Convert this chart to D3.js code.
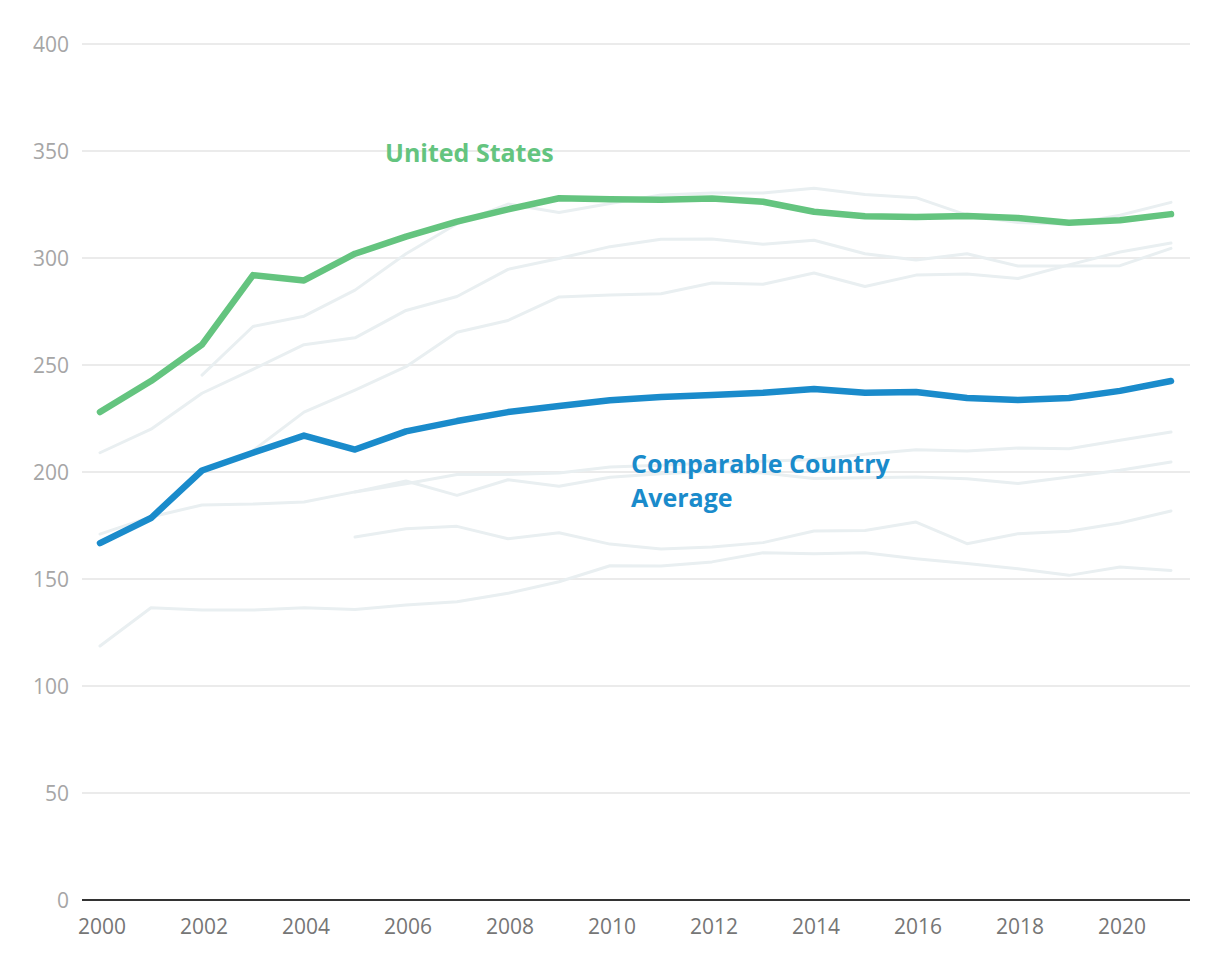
<!DOCTYPE html>
<html>
<head>
<meta charset="utf-8">
<script src="https://cdn.jsdelivr.net/npm/d3@7"></script>
<style>
  html, body { margin: 0; padding: 0; background: #ffffff; }
  svg { display: block; font-family: "Open Sans", Lato, sans-serif; }
</style>
</head>
<body>
<svg id="chart" width="1220" height="970"></svg>
<script>
// ---- Data ----
const years = [2000,2001,2002,2003,2004,2005,2006,2007,2008,2009,2010,2011,2012,2013,2014,2015,2016,2017,2018,2019,2020,2021];
const yTicks = [0,50,100,150,200,250,300,350,400];
const xTicks = [2000,2002,2004,2006,2008,2010,2012,2014,2016,2018,2020];

const unitedStates = [228,242.5,259.5,292,289.5,302,310,317,322.7,327.9,327.5,327.2,327.8,326.3,321.6,319.5,319.2,319.6,318.7,316.5,317.6,320.5];
const comparableAvg = [166.8,178.5,200.7,209,217,210.5,219,223.8,228,230.8,233.5,235,236,237,238.8,237,237.4,234.6,233.6,234.6,237.9,242.5];

const countryA = [null,null,245.3,268,272.8,285,302,316,325.2,321.3,325.5,329.4,330.4,330.4,332.6,329.7,328.2,320,316.6,315.8,320,326];
const countryB = [209,220,236.8,248,259.5,262.7,275.5,282,294.7,299.8,305.3,308.8,308.9,306.4,308.3,302,299.1,302,296.3,296.3,296.4,304.5];
const countryC = [null,null,null,210,228,238.3,249.2,265.3,270.8,281.8,282.7,283.3,288.3,287.7,293,286.7,292,292.5,290.4,296.8,302.8,307];
const countryD = [171,179,184.6,185,186,190.7,195.8,189.1,196.4,193.3,197.5,199.2,200.2,199.5,197,197.3,197.7,196.9,194.6,197.7,200.8,204.7];
const countryE = [null,null,null,null,null,190.7,194.5,198.8,198.8,199.5,202.3,203.2,204.2,205,205.8,208.3,210.4,209.8,211.2,210.9,214.8,218.7];
const countryF = [null,null,null,null,null,169.6,173.5,174.6,168.8,171.6,166.3,164,165,167,172.4,172.7,176.6,166.5,171.2,172.3,176.2,181.8];
const countryG = [118.7,136.6,135.5,135.5,136.6,135.8,137.8,139.4,143.3,148.7,156.2,156.1,158,162.3,161.8,162.3,159.5,157.2,154.8,151.7,155.6,154];

const otherCountries = [countryA, countryB, countryC, countryD, countryE, countryF, countryG];

// ---- Chart ----
const svg = d3.select("#chart");
const x = d3.scaleLinear().domain([2000, 2021]).range([100, 1171]);
const y = d3.scaleLinear().domain([0, 400]).range([900, 44]);
const gridLeft = 82, gridRight = 1190;

// gridlines
svg.append("g").selectAll("line")
  .data(yTicks.filter(d => d !== 0))
  .join("line")
  .attr("x1", gridLeft).attr("x2", gridRight)
  .attr("y1", d => y(d)).attr("y2", d => y(d))
  .attr("stroke", "#e4e4e4").attr("stroke-width", 1.5);

// y labels
svg.append("g").selectAll("text")
  .data(yTicks)
  .join("text")
  .attr("x", 69).attr("y", d => y(d))
  .attr("dy", "0.36em")
  .attr("text-anchor", "end")
  .attr("font-size", 21)
  .attr("fill", "#a6a6a6")
  .text(d => d);

// x axis line
svg.append("line")
  .attr("x1", gridLeft).attr("x2", gridRight)
  .attr("y1", y(0)).attr("y2", y(0))
  .attr("stroke", "#333333").attr("stroke-width", 2);

// x labels
svg.append("g").selectAll("text")
  .data(xTicks)
  .join("text")
  .attr("x", d => x(d) + 2).attr("y", 934)
  .attr("text-anchor", "middle")
  .attr("font-size", 21)
  .attr("fill", "#767676")
  .text(d => d);

const line = d3.line()
  .defined(d => d[1] !== null)
  .x(d => x(d[0]))
  .y(d => y(d[1]));

const toPts = arr => years.map((yr, i) => [yr, arr[i]]);

svg.append("g").selectAll("path")
  .data(otherCountries)
  .join("path")
  .attr("d", d => line(toPts(d)))
  .attr("fill", "none")
  .attr("stroke", "#e9eff1")
  .attr("stroke-width", 3)
  .attr("stroke-linejoin", "round")
  .attr("stroke-linecap", "round");

svg.append("path")
  .attr("d", line(toPts(comparableAvg)))
  .attr("fill", "none")
  .attr("stroke", "#1a8bcb")
  .attr("stroke-width", 6.5)
  .attr("stroke-linejoin", "round")
  .attr("stroke-linecap", "round");

svg.append("path")
  .attr("d", line(toPts(unitedStates)))
  .attr("fill", "none")
  .attr("stroke", "#64c47f")
  .attr("stroke-width", 6.5)
  .attr("stroke-linejoin", "round")
  .attr("stroke-linecap", "round");

// labels
svg.append("text")
  .attr("x", 385).attr("y", 162)
  .attr("font-size", 25).attr("font-weight", 700)
  .attr("fill", "#64c47f")
  .text("United States");

const lab = svg.append("text")
  .attr("x", 631).attr("y", 473)
  .attr("font-size", 25).attr("font-weight", 700)
  .attr("fill", "#1a8bcb");
lab.append("tspan").attr("x", 631).text("Comparable Country");
lab.append("tspan").attr("x", 631).attr("dy", 34).text("Average");
</script>
</body>
</html>
